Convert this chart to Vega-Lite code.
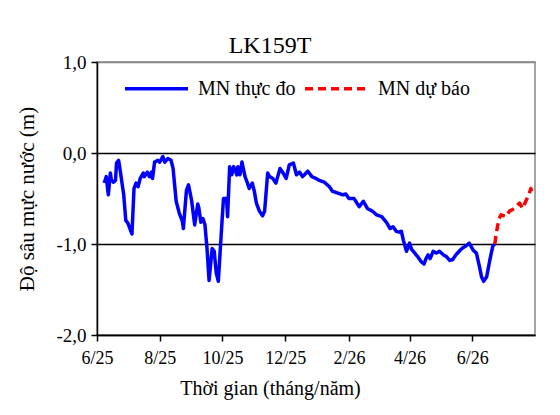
{
  "$schema": "https://vega.github.io/schema/vega-lite/v6.json",
  "autosize": {"type": "none"},
  "width": 438,
  "height": 273,
  "padding": {"left": 97, "top": 62, "right": 25, "bottom": 80},
  "background": "white",
  "title": {
    "text": "LK159T",
    "anchor": "middle",
    "dx": -46,
    "dy": 17,
    "offset": 12,
    "font": "Liberation Serif",
    "fontSize": 24,
    "fontWeight": "normal",
    "color": "black"
  },
  "config": {
    "font": "Liberation Serif",
    "view": {"stroke": "#868686", "strokeWidth": 1.5},
    "text": {"font": "Liberation Serif"},
    "legend": {"labelFont": "Liberation Serif", "titleFont": "Liberation Serif"},
    "axis": {
      "labelFont": "Liberation Serif",
      "titleFont": "Liberation Serif",
      "labelColor": "black",
      "titleColor": "black",
      "titleFontWeight": "normal",
      "domainColor": "black",
      "domainWidth": 1.5,
      "tickColor": "black",
      "tickWidth": 1.5,
      "tickSize": 6
    }
  },
  "data": {
    "values": [
      {"date": "2025-06-08", "depth": -0.33, "series": "MN thực đo"},
      {"date": "2025-06-10", "depth": -0.26, "series": "MN thực đo"},
      {"date": "2025-06-12", "depth": -0.46, "series": "MN thực đo"},
      {"date": "2025-06-14", "depth": -0.22, "series": "MN thực đo"},
      {"date": "2025-06-15", "depth": -0.30, "series": "MN thực đo"},
      {"date": "2025-06-17", "depth": -0.32, "series": "MN thực đo"},
      {"date": "2025-06-19", "depth": -0.30, "series": "MN thực đo"},
      {"date": "2025-06-20", "depth": -0.11, "series": "MN thực đo"},
      {"date": "2025-06-22", "depth": -0.08, "series": "MN thực đo"},
      {"date": "2025-06-23", "depth": -0.15, "series": "MN thực đo"},
      {"date": "2025-06-27", "depth": -0.46, "series": "MN thực đo"},
      {"date": "2025-06-29", "depth": -0.74, "series": "MN thực đo"},
      {"date": "2025-07-01", "depth": -0.77, "series": "MN thực đo"},
      {"date": "2025-07-05", "depth": -0.89, "series": "MN thực đo"},
      {"date": "2025-07-07", "depth": -0.39, "series": "MN thực đo"},
      {"date": "2025-07-09", "depth": -0.33, "series": "MN thực đo"},
      {"date": "2025-07-11", "depth": -0.37, "series": "MN thực đo"},
      {"date": "2025-07-13", "depth": -0.28, "series": "MN thực đo"},
      {"date": "2025-07-16", "depth": -0.22, "series": "MN thực đo"},
      {"date": "2025-07-17", "depth": -0.26, "series": "MN thực đo"},
      {"date": "2025-07-20", "depth": -0.21, "series": "MN thực đo"},
      {"date": "2025-07-22", "depth": -0.26, "series": "MN thực đo"},
      {"date": "2025-07-24", "depth": -0.21, "series": "MN thực đo"},
      {"date": "2025-07-25", "depth": -0.28, "series": "MN thực đo"},
      {"date": "2025-07-27", "depth": -0.10, "series": "MN thực đo"},
      {"date": "2025-07-30", "depth": -0.08, "series": "MN thực đo"},
      {"date": "2025-08-01", "depth": -0.10, "series": "MN thực đo"},
      {"date": "2025-08-04", "depth": -0.04, "series": "MN thực đo"},
      {"date": "2025-08-06", "depth": -0.10, "series": "MN thực đo"},
      {"date": "2025-08-09", "depth": -0.06, "series": "MN thực đo"},
      {"date": "2025-08-12", "depth": -0.08, "series": "MN thực đo"},
      {"date": "2025-08-14", "depth": -0.17, "series": "MN thực đo"},
      {"date": "2025-08-17", "depth": -0.53, "series": "MN thực đo"},
      {"date": "2025-08-20", "depth": -0.66, "series": "MN thực đo"},
      {"date": "2025-08-23", "depth": -0.75, "series": "MN thực đo"},
      {"date": "2025-08-24", "depth": -0.83, "series": "MN thực đo"},
      {"date": "2025-08-27", "depth": -0.41, "series": "MN thực đo"},
      {"date": "2025-08-29", "depth": -0.35, "series": "MN thực đo"},
      {"date": "2025-09-01", "depth": -0.52, "series": "MN thực đo"},
      {"date": "2025-09-04", "depth": -0.79, "series": "MN thực đo"},
      {"date": "2025-09-07", "depth": -0.56, "series": "MN thực đo"},
      {"date": "2025-09-08", "depth": -0.60, "series": "MN thực đo"},
      {"date": "2025-09-10", "depth": -0.76, "series": "MN thực đo"},
      {"date": "2025-09-12", "depth": -0.72, "series": "MN thực đo"},
      {"date": "2025-09-14", "depth": -0.79, "series": "MN thực đo"},
      {"date": "2025-09-16", "depth": -1.05, "series": "MN thực đo"},
      {"date": "2025-09-18", "depth": -1.40, "series": "MN thực đo"},
      {"date": "2025-09-21", "depth": -1.05, "series": "MN thực đo"},
      {"date": "2025-09-23", "depth": -1.08, "series": "MN thực đo"},
      {"date": "2025-09-25", "depth": -1.32, "series": "MN thực đo"},
      {"date": "2025-09-27", "depth": -1.41, "series": "MN thực đo"},
      {"date": "2025-09-30", "depth": -0.86, "series": "MN thực đo"},
      {"date": "2025-10-02", "depth": -0.50, "series": "MN thực đo"},
      {"date": "2025-10-05", "depth": -0.50, "series": "MN thực đo"},
      {"date": "2025-10-06", "depth": -0.70, "series": "MN thực đo"},
      {"date": "2025-10-08", "depth": -0.15, "series": "MN thực đo"},
      {"date": "2025-10-10", "depth": -0.24, "series": "MN thực đo"},
      {"date": "2025-10-12", "depth": -0.15, "series": "MN thực đo"},
      {"date": "2025-10-15", "depth": -0.24, "series": "MN thực đo"},
      {"date": "2025-10-16", "depth": -0.15, "series": "MN thực đo"},
      {"date": "2025-10-18", "depth": -0.24, "series": "MN thực đo"},
      {"date": "2025-10-20", "depth": -0.10, "series": "MN thực đo"},
      {"date": "2025-10-23", "depth": -0.26, "series": "MN thực đo"},
      {"date": "2025-10-25", "depth": -0.32, "series": "MN thực đo"},
      {"date": "2025-10-27", "depth": -0.39, "series": "MN thực đo"},
      {"date": "2025-10-30", "depth": -0.33, "series": "MN thực đo"},
      {"date": "2025-11-01", "depth": -0.42, "series": "MN thực đo"},
      {"date": "2025-11-03", "depth": -0.55, "series": "MN thực đo"},
      {"date": "2025-11-06", "depth": -0.64, "series": "MN thực đo"},
      {"date": "2025-11-09", "depth": -0.69, "series": "MN thực đo"},
      {"date": "2025-11-11", "depth": -0.64, "series": "MN thực đo"},
      {"date": "2025-11-14", "depth": -0.22, "series": "MN thực đo"},
      {"date": "2025-11-16", "depth": -0.26, "series": "MN thực đo"},
      {"date": "2025-11-19", "depth": -0.28, "series": "MN thực đo"},
      {"date": "2025-11-22", "depth": -0.33, "series": "MN thực đo"},
      {"date": "2025-11-26", "depth": -0.17, "series": "MN thực đo"},
      {"date": "2025-11-29", "depth": -0.22, "series": "MN thực đo"},
      {"date": "2025-12-02", "depth": -0.28, "series": "MN thực đo"},
      {"date": "2025-12-05", "depth": -0.13, "series": "MN thực đo"},
      {"date": "2025-12-09", "depth": -0.11, "series": "MN thực đo"},
      {"date": "2025-12-12", "depth": -0.24, "series": "MN thực đo"},
      {"date": "2025-12-15", "depth": -0.21, "series": "MN thực đo"},
      {"date": "2025-12-18", "depth": -0.26, "series": "MN thực đo"},
      {"date": "2025-12-23", "depth": -0.20, "series": "MN thực đo"},
      {"date": "2025-12-27", "depth": -0.26, "series": "MN thực đo"},
      {"date": "2025-12-31", "depth": -0.28, "series": "MN thực đo"},
      {"date": "2026-01-03", "depth": -0.30, "series": "MN thực đo"},
      {"date": "2026-01-08", "depth": -0.32, "series": "MN thực đo"},
      {"date": "2026-01-13", "depth": -0.37, "series": "MN thực đo"},
      {"date": "2026-01-16", "depth": -0.42, "series": "MN thực đo"},
      {"date": "2026-01-21", "depth": -0.44, "series": "MN thực đo"},
      {"date": "2026-01-26", "depth": -0.46, "series": "MN thực đo"},
      {"date": "2026-01-29", "depth": -0.45, "series": "MN thực đo"},
      {"date": "2026-02-01", "depth": -0.50, "series": "MN thực đo"},
      {"date": "2026-02-06", "depth": -0.50, "series": "MN thực đo"},
      {"date": "2026-02-11", "depth": -0.59, "series": "MN thực đo"},
      {"date": "2026-02-15", "depth": -0.53, "series": "MN thực đo"},
      {"date": "2026-02-19", "depth": -0.61, "series": "MN thực đo"},
      {"date": "2026-02-24", "depth": -0.64, "series": "MN thực đo"},
      {"date": "2026-02-28", "depth": -0.68, "series": "MN thực đo"},
      {"date": "2026-03-05", "depth": -0.70, "series": "MN thực đo"},
      {"date": "2026-03-10", "depth": -0.77, "series": "MN thực đo"},
      {"date": "2026-03-13", "depth": -0.83, "series": "MN thực đo"},
      {"date": "2026-03-16", "depth": -0.81, "series": "MN thực đo"},
      {"date": "2026-03-19", "depth": -0.86, "series": "MN thực đo"},
      {"date": "2026-03-22", "depth": -0.87, "series": "MN thực đo"},
      {"date": "2026-03-24", "depth": -0.86, "series": "MN thực đo"},
      {"date": "2026-03-26", "depth": -0.96, "series": "MN thực đo"},
      {"date": "2026-03-29", "depth": -1.08, "series": "MN thực đo"},
      {"date": "2026-04-01", "depth": -0.99, "series": "MN thực đo"},
      {"date": "2026-04-03", "depth": -1.06, "series": "MN thực đo"},
      {"date": "2026-04-06", "depth": -1.10, "series": "MN thực đo"},
      {"date": "2026-04-09", "depth": -1.14, "series": "MN thực đo"},
      {"date": "2026-04-12", "depth": -1.19, "series": "MN thực đo"},
      {"date": "2026-04-15", "depth": -1.22, "series": "MN thực đo"},
      {"date": "2026-04-17", "depth": -1.16, "series": "MN thực đo"},
      {"date": "2026-04-19", "depth": -1.12, "series": "MN thực đo"},
      {"date": "2026-04-21", "depth": -1.16, "series": "MN thực đo"},
      {"date": "2026-04-24", "depth": -1.08, "series": "MN thực đo"},
      {"date": "2026-04-27", "depth": -1.10, "series": "MN thực đo"},
      {"date": "2026-04-30", "depth": -1.08, "series": "MN thực đo"},
      {"date": "2026-05-04", "depth": -1.12, "series": "MN thực đo"},
      {"date": "2026-05-07", "depth": -1.14, "series": "MN thực đo"},
      {"date": "2026-05-10", "depth": -1.18, "series": "MN thực đo"},
      {"date": "2026-05-13", "depth": -1.17, "series": "MN thực đo"},
      {"date": "2026-05-16", "depth": -1.12, "series": "MN thực đo"},
      {"date": "2026-05-20", "depth": -1.07, "series": "MN thực đo"},
      {"date": "2026-05-23", "depth": -1.04, "series": "MN thực đo"},
      {"date": "2026-05-26", "depth": -1.02, "series": "MN thực đo"},
      {"date": "2026-05-29", "depth": -0.99, "series": "MN thực đo"},
      {"date": "2026-06-02", "depth": -1.07, "series": "MN thực đo"},
      {"date": "2026-06-05", "depth": -1.10, "series": "MN thực đo"},
      {"date": "2026-06-08", "depth": -1.25, "series": "MN thực đo"},
      {"date": "2026-06-10", "depth": -1.36, "series": "MN thực đo"},
      {"date": "2026-06-12", "depth": -1.41, "series": "MN thực đo"},
      {"date": "2026-06-15", "depth": -1.36, "series": "MN thực đo"},
      {"date": "2026-06-18", "depth": -1.18, "series": "MN thực đo"},
      {"date": "2026-06-21", "depth": -1.02, "series": "MN thực đo"},
      {"date": "2026-06-23", "depth": -1.00, "series": "MN thực đo"},
      {"date": "2026-06-23", "depth": -1.00, "series": "MN dự báo"},
      {"date": "2026-06-24", "depth": -0.90, "series": "MN dự báo"},
      {"date": "2026-06-27", "depth": -0.72, "series": "MN dự báo"},
      {"date": "2026-06-29", "depth": -0.68, "series": "MN dự báo"},
      {"date": "2026-07-04", "depth": -0.70, "series": "MN dự báo"},
      {"date": "2026-07-07", "depth": -0.64, "series": "MN dự báo"},
      {"date": "2026-07-12", "depth": -0.61, "series": "MN dự báo"},
      {"date": "2026-07-17", "depth": -0.55, "series": "MN dự báo"},
      {"date": "2026-07-20", "depth": -0.61, "series": "MN dự báo"},
      {"date": "2026-07-23", "depth": -0.53, "series": "MN dự báo"},
      {"date": "2026-07-26", "depth": -0.46, "series": "MN dự báo"},
      {"date": "2026-07-28", "depth": -0.39, "series": "MN dự báo"},
      {"date": "2026-07-29", "depth": -0.45, "series": "MN dự báo"}
    ]
  },
  "mark": {"type": "line", "strokeWidth": 3.5, "strokeJoin": "round", "clip": true},
  "encoding": {
    "x": {
      "field": "date",
      "type": "temporal",
      "scale": {
        "type": "utc",
        "domain": [
          {"year": 2025, "month": 6, "date": 1, "utc": true},
          {"year": 2026, "month": 8, "date": 1, "utc": true}
        ]
      },
      "axis": {
        "title": "Thời gian  (tháng/năm)",
        "values": [
          {"year": 2025, "month": 6, "date": 1, "utc": true},
          {"year": 2025, "month": 8, "date": 1, "utc": true},
          {"year": 2025, "month": 10, "date": 1, "utc": true},
          {"year": 2025, "month": 12, "date": 1, "utc": true},
          {"year": 2026, "month": 2, "date": 1, "utc": true},
          {"year": 2026, "month": 4, "date": 1, "utc": true},
          {"year": 2026, "month": 6, "date": 1, "utc": true}
        ],
        "labelExpr": "(utcmonth(datum.value) + 1) + '/' + (utcyear(datum.value) % 100)",
        "labelFont": "Liberation Serif",
        "labelFontSize": 18,
        "labelPadding": 8,
        "labelFlush": false,
        "titleFont": "Liberation Serif",
        "titleFontSize": 20,
        "titlePadding": 11,
        "titleX": 173,
        "titleAlign": "center",
        "grid": false
      }
    },
    "y": {
      "field": "depth",
      "type": "quantitative",
      "scale": {"domain": [-2, 1], "nice": false, "zero": false},
      "axis": {
        "title": "Độ sâu mực nước (m)",
        "values": [-2, -1, 0, 1],
        "labelExpr": "(datum.value < 0 ? '-' : '') + replace(format(abs(datum.value), '.1f'), '.', ',')",
        "labelFont": "Liberation Serif",
        "labelFontSize": 19,
        "labelPadding": 5,
        "titleFont": "Liberation Serif",
        "titleFontSize": 21,
        "titlePadding": 18,
        "grid": true,
        "gridColor": {"condition": {"test": "datum.value == 1", "value": "#868686"}, "value": "black"},
        "gridWidth": 1.5
      }
    },
    "color": {
      "field": "series",
      "type": "nominal",
      "scale": {"domain": ["MN thực đo", "MN dự báo"], "range": ["#0000FF", "#FF0000"]},
      "legend": {
        "title": null,
        "orient": "none",
        "direction": "horizontal",
        "legendX": 26,
        "legendY": -7,
        "padding": 0,
        "symbolType": "stroke",
        "symbolSize": 3969,
        "symbolStrokeWidth": 3.5,
        "labelFont": "Liberation Serif",
        "labelFontSize": 20,
        "labelColor": "black",
        "labelOffset": 8,
        "columnPadding": 2
      }
    },
    "strokeDash": {
      "field": "series",
      "type": "nominal",
      "scale": {"domain": ["MN thực đo", "MN dự báo"], "range": [[1, 0], [8, 5]]},
      "legend": null
    }
  }
}
